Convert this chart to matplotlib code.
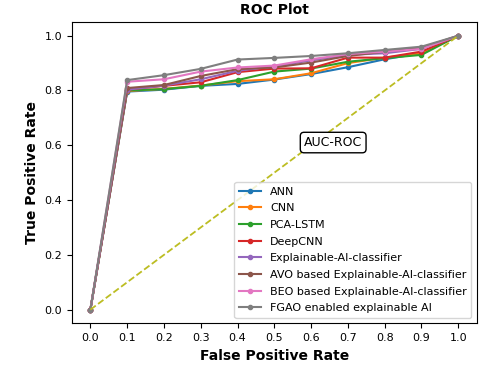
import matplotlib.pyplot as plt

fpr = [0.0, 0.1, 0.2, 0.3, 0.4, 0.5, 0.6, 0.7, 0.8, 0.9, 1.0]

ann = [0.0, 0.796, 0.803, 0.817, 0.824, 0.840, 0.860, 0.885, 0.914, 0.936, 1.0]
cnn = [0.0, 0.798, 0.806, 0.818, 0.834, 0.841, 0.863, 0.900, 0.920, 0.936, 1.0]
pca_lstm = [0.0, 0.800, 0.805, 0.817, 0.838, 0.869, 0.880, 0.905, 0.918, 0.930, 1.0]
deepcnn = [0.0, 0.803, 0.817, 0.830, 0.867, 0.880, 0.881, 0.920, 0.920, 0.942, 1.0]
xai = [0.0, 0.803, 0.818, 0.841, 0.872, 0.888, 0.910, 0.930, 0.936, 0.952, 1.0]
avo_xai = [0.0, 0.809, 0.820, 0.853, 0.878, 0.884, 0.902, 0.926, 0.942, 0.956, 1.0]
beo_xai = [0.0, 0.832, 0.841, 0.869, 0.884, 0.891, 0.914, 0.933, 0.942, 0.952, 1.0]
fgao = [0.0, 0.838, 0.856, 0.879, 0.913, 0.919, 0.926, 0.936, 0.948, 0.960, 1.0]

series = [ann, cnn, pca_lstm, deepcnn, xai, avo_xai, beo_xai, fgao]
labels = ['ANN', 'CNN', 'PCA-LSTM', 'DeepCNN', 'Explainable-AI-classifier',
          'AVO based Explainable-AI-classifier', 'BEO based Explainable-AI-classifier',
          'FGAO enabled explainable AI']

fig = plt.figure(figsize=(4.8, 3.67), dpi=100)
ax = fig.add_axes([0.15, 0.119, 0.843, 0.821])

for s, lab in zip(series, labels):
    ax.plot(fpr, s, marker='o', markersize=3, linewidth=1.5, label=lab)

ax.plot([0, 1], [0, 1], linestyle='--', color='#bcbd22', linewidth=1.3)

ax.text(0.66, 0.61, 'AUC-ROC', fontsize=9, ha='center', va='center',
        bbox=dict(boxstyle='round', facecolor='white', edgecolor='black'))

ax.set_xticks([0.0, 0.1, 0.2, 0.3, 0.4, 0.5, 0.6, 0.7, 0.8, 0.9, 1.0])
ax.set_yticks([0.0, 0.2, 0.4, 0.6, 0.8, 1.0])
ax.tick_params(labelsize=8)
ax.set_xlabel('False Positive Rate', fontsize=10, fontweight='bold')
ax.set_ylabel('True Positive Rate', fontsize=10, fontweight='bold')
ax.set_title('ROC Plot', fontsize=10, fontweight='bold')
ax.legend(loc='lower right', fontsize=8, labelspacing=0.6)

fig.savefig('out.png', dpi=100)
